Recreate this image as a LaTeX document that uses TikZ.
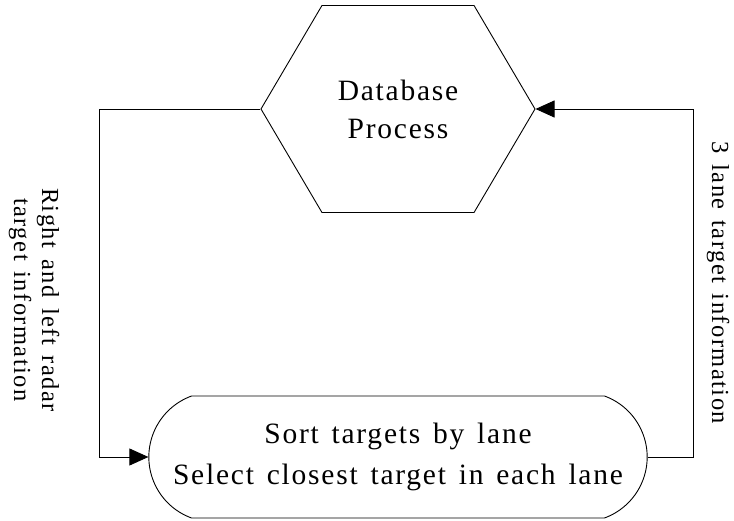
\documentclass[tikz,border=0pt]{standalone}
\usepackage{fontspec}
\setmainfont{Liberation Serif}[LetterSpace=6, WordSpace=1.4]
\usetikzlibrary{positioning, shapes.misc, shapes.symbols, arrows.meta}
\tikzset{node distance = 348pt}
\tikzset{process/.style = {draw, signal, signal to=east and west, signal pointer angle=119, minimum width=274pt, minimum height=207pt, inner sep=0pt, align=center, font=\fontsize{29.5}{38}\selectfont}}
\tikzset{terminal/.style = {draw, rounded rectangle, rounded rectangle arc length=140, minimum width=505pt, minimum height=122pt, align=center, font=\fontsize{29.5}{41}\selectfont}}
\tikzset{flow/.style = {-{Triangle[length=19pt, width=17pt]}}}
\tikzset{link/.style = {rotate=-90, align=center, font=\fontsize{24.5}{28}\selectfont}}

\begin{document}
\begin{tikzpicture}[line width=0.9pt, on grid]
	\useasboundingbox (0,0) rectangle (734pt,520pt);
	% Database process
	\node [process] (db-proc) at (398pt,411pt) {Database\\Process};
	% Sorting by lane
	\node [terminal, below= of db-proc] (sort) {Sort targets by lane\\Select closest target in each lane};
	% Radar information
	\draw[flow] (db-proc.west) -- ++(-161pt,0) |- (sort.west);
	\node [link] (radar-info) at (34pt,220pt) {Right and left radar\\target information};
	% Lane information
	\draw[flow] (sort.east) -- ++(46pt,0) |- (db-proc.east);
	\node [link] (lane-info) at (718pt,237pt) {3 lane target information};
\end{tikzpicture}
\end{document}
